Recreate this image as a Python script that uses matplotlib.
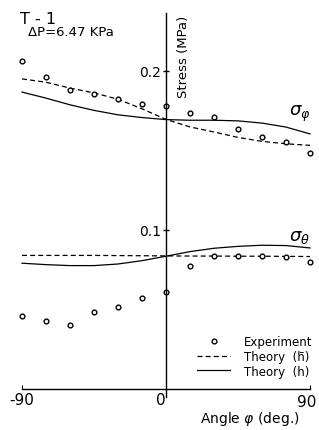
import matplotlib
matplotlib.use("Agg")
import matplotlib.pyplot as plt
from matplotlib.lines import Line2D

plt.rcParams['font.family'] = ['DejaVu Sans']
plt.rcParams['mathtext.fontset'] = 'dejavusans'

# data
angles = [-90, -75, -60, -45, -30, -15, 0, 15, 30, 45, 60, 75, 90]

exp_phi = [0.206, 0.196, 0.188, 0.1853, 0.1822, 0.179, 0.1778, 0.1734, 0.1707, 0.163, 0.1585, 0.155, 0.1482]
hbar_phi = [0.1948, 0.1927, 0.189, 0.186, 0.182, 0.176, 0.1693, 0.1646, 0.1614, 0.158, 0.1555, 0.154, 0.153]
h_phi = [0.1865, 0.1827, 0.1785, 0.175, 0.1722, 0.1705, 0.1692, 0.1688, 0.1688, 0.1684, 0.167, 0.1645, 0.1602]

exp_theta = [0.046, 0.0426, 0.0401, 0.0484, 0.0512, 0.0571, 0.0608, 0.077, 0.0833, 0.0837, 0.0837, 0.0826, 0.0795]
hbar_theta = [0.0838, 0.0838, 0.0838, 0.0838, 0.0837, 0.0836, 0.0835, 0.0834, 0.0834, 0.0833, 0.0833, 0.0832, 0.0831]
h_theta = [0.0789, 0.078, 0.0774, 0.0774, 0.0784, 0.0805, 0.0833, 0.0862, 0.0883, 0.0895, 0.0902, 0.090, 0.0885]

yticks = [0.1, 0.2]
ytick_labels = ['0.1', '0.2']

W, H = 319, 431
fig = plt.figure(figsize=(W / 100, H / 100), dpi=100)
ax = fig.add_axes([14 / W, 1 - 421.5 / H, 304 / W, (421.5 - 8) / H])
ax.set_xlim(-95, 95)
ax.set_ylim(-0.02, 0.24)

lw = 0.9
ms = 3.4
ax.plot(angles, hbar_phi, color='black', lw=lw, ls=(0, (4, 2.5)))
ax.plot(angles, h_phi, color='black', lw=lw)
ax.plot(angles, exp_phi, ls='none', marker='o', ms=ms, mfc='white', mec='black', mew=1)

ax.plot(angles, hbar_theta, color='black', lw=lw, ls=(0, (4, 2.5)))
ax.plot(angles, h_theta, color='black', lw=lw)
ax.plot(angles, exp_theta, ls='none', marker='o', ms=ms, mfc='white', mec='black', mew=1)

# axes through the origin
for s in ['top', 'right']:
    ax.spines[s].set_visible(False)
ax.spines['left'].set_position(('data', 0))
ax.spines['bottom'].set_position(('data', 0))
ax.spines['left'].set_bounds(-0.005, 0.236)
ax.spines['bottom'].set_bounds(-90, 90)
ax.spines['left'].set_linewidth(1)
ax.spines['bottom'].set_linewidth(1)

ax.set_yticks(yticks)
ax.set_yticklabels(ytick_labels, fontsize=10)
ax.tick_params(axis='y', direction='inout', length=5, width=1, pad=1)
ax.set_xticks([-90, 90])
ax.set_xticklabels([])
ax.tick_params(axis='x', direction='in', length=3, width=0.8)

# x tick labels placed by hand like the original
ax.text(-90, -0.002, '-90', fontsize=11, ha='center', va='top')
ax.text(-3, -0.002, '0', fontsize=11, ha='center', va='top')
ax.text(88, -0.0035, '90', fontsize=11, ha='center', va='top')

fig.text(250 / W, 1 - 419 / H, r'Angle $\varphi$ (deg.)', fontsize=10, ha='center', va='center')
fig.text(184 / W, 1 - 57 / H, 'Stress (MPa)', fontsize=9.5, rotation=90, ha='center', va='center')

fig.text(20 / W, 1 - 20 / H, 'T - 1', fontsize=11.5, ha='left', va='center')
fig.text(28 / W, 1 - 33 / H, 'ΔP=6.47 KPa', fontsize=9.5, ha='left', va='center')

fig.text(289 / W, 1 - 114 / H, r'$\sigma_{\varphi}$', fontsize=13, ha='left', va='center')
fig.text(289 / W, 1 - 237 / H, r'$\sigma_{\theta}$', fontsize=13, ha='left', va='center')

handles = [
    Line2D([], [], ls='none', marker='o', ms=ms, mfc='white', mec='black', mew=1),
    Line2D([], [], color='black', lw=lw, ls=(0, (4, 2.5))),
    Line2D([], [], color='black', lw=lw),
]
labels = ['Experiment', 'Theory  (h\u0304)', 'Theory  (h)']
ax.legend(handles, labels, loc='upper left', bbox_to_anchor=(197 / W, 1 - 336 / H),
          bbox_transform=fig.transFigure, frameon=False, fontsize=8.5,
          handlelength=2.8, handletextpad=1.2, labelspacing=0.15,
          borderpad=0, borderaxespad=0)

fig.savefig('out.png', dpi=100)
